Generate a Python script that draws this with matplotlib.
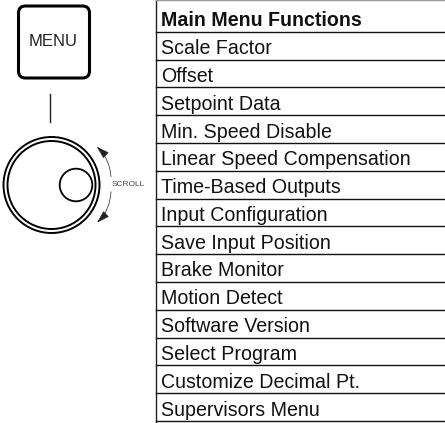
# -*- coding: utf-8 -*-
"""
Menu button, scroll knob and list of main menu functions
"""
import matplotlib.pyplot as plt
from matplotlib.patches import Circle, FancyBboxPatch, FancyArrowPatch

menu_title = 'Main Menu Functions'
menu_items = ['Scale Factor', 'Offset', 'Setpoint Data', 'Min. Speed Disable',
              'Linear Speed Compensation', 'Time-Based Outputs',
              'Input Configuration', 'Save Input Position', 'Brake Monitor',
              'Motion Detect', 'Software Version', 'Select Program',
              'Customize Decimal Pt.', 'Supervisors Menu']
button_label = 'MENU'
scroll_label = 'SCROLL'

plt.rcParams['font.family'] = ['Liberation Sans', 'DejaVu Sans']

W, H = 445, 423
fig = plt.figure(figsize=(W/100, H/100), dpi=100)
ax = fig.add_axes([0, 0, 1, 1])
ax.set_xlim(0, W)
ax.set_ylim(H, 0)
ax.axis('off')

# table
top = 4.0
row = 27.8
left = 155.5
ax.plot([left, left], [0, 422], color='#222222', lw=1.0)
ax.plot([left, W], [0.3, 0.3], color='#999999', lw=1.0)
rows = [menu_title] + menu_items
for i, label in enumerate(rows):
    y_bottom = top + row*(i+1)
    ax.plot([left, W], [y_bottom, y_bottom], color='#111111', lw=1.0)
    ax.text(161, y_bottom - 5.5, label, fontsize=14.15, va='baseline',
            ha='left', color='#111111',
            fontweight='bold' if i == 0 else 'normal')

# button
ax.add_patch(FancyBboxPatch((18.5, 6), 71, 72, boxstyle='round,pad=0,rounding_size=7',
                            fc='white', ec='black', lw=2.2))
ax.text(53, 42, button_label, fontsize=12, ha='center', va='center',
        color='#222222')
ax.plot([49.5, 49.5], [94, 121.7], color='#222222', lw=1.0)

# knob
ax.add_patch(Circle((51.5, 185), 48, fc='none', ec='black', lw=1.4))
ax.add_patch(Circle((51.5, 185), 44, fc='none', ec='black', lw=1.4))
ax.add_patch(Circle((76, 185), 16.3, fc='none', ec='black', lw=1.3))

# scroll arrows
ax.add_patch(FancyArrowPatch((111, 176.7), (96.7, 146.7),
                             arrowstyle='-|>,head_width=1.5,head_length=5',
                             connectionstyle='arc3,rad=0.2', color='#222222',
                             lw=0.5, shrinkA=0, shrinkB=0, mutation_scale=1.6))
ax.add_patch(FancyArrowPatch((111, 191.7), (97, 222.7),
                             arrowstyle='-|>,head_width=1.5,head_length=5',
                             connectionstyle='arc3,rad=-0.2', color='#222222',
                             lw=0.5, shrinkA=0, shrinkB=0, mutation_scale=1.6))
ax.text(128, 185, scroll_label, fontsize=6, ha='center', va='center',
        color='#444444')

fig.savefig('out.png', dpi=100)
